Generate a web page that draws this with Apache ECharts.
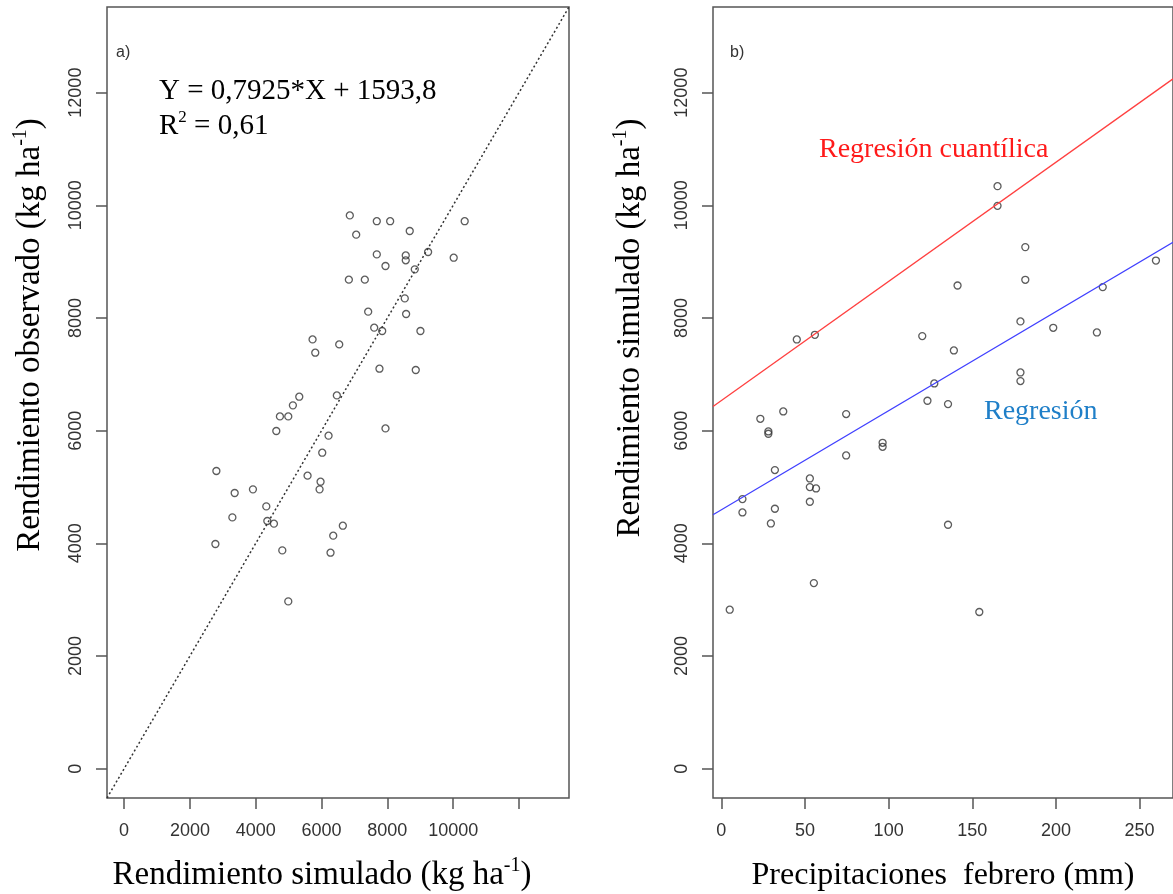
<!DOCTYPE html>
<html><head><meta charset="utf-8">
<script src="https://cdn.jsdelivr.net/npm/echarts@6/dist/echarts.min.js"></script>
<style>html,body{margin:0;padding:0;background:#fff}#c{width:1173px;height:894px}</style>
</head><body><div id="c"></div>
<script>
// Panel a) simulated vs observed yield (kg/ha)
const simA = [6859,7679,8085,10350,7053,8680,7679,8559,8559,9238,10016,7943,8833,6830,7315,8529,7417,8570,7600,7843,9005,5727,5809,6537,7760,8863,5323,6465,5129,4735,4989,4625,7943,6213,6021,2804,5575,5970,5940,3360,3915,4321,3290,4352,4553,6647,6355,2774,4807,6273,4989];
const obsA = [9821,9718,9718,9718,9479,9544,9129,9111,9023,9171,9070,8923,8863,8680,8680,8348,8112,8071,7828,7769,7769,7620,7384,7531,7100,7077,6603,6626,6449,6253,6253,5994,6040,5911,5609,5284,5201,5094,4958,4894,4958,4656,4461,4397,4349,4313,4136,3988,3875,3834,2970];
// Panel b) February rainfall (mm) vs simulated yield (kg/ha)
const precipB = [165.1,165.1,181.7,181.7,141.2,228.0,259.8,45.1,55.9,120.1,139.0,178.8,198.4,224.5,178.8,178.8,127.3,123.2,135.5,23.3,37.0,28.1,28.1,74.6,74.6,96.4,96.4,32.0,52.9,52.9,56.6,52.9,12.6,12.6,32.0,29.6,135.5,55.3,5.0,154.2];
const simB = [10340,9991,9258,8678,8577,8548,9020,7619,7702,7679,7424,7939,7826,7743,7033,6880,6838,6531,6472,6211,6341,5986,5945,6294,5560,5785,5714,5300,5152,4999,4974,4738,4786,4548,4614,4353,4330,3295,2822,2781];
// Regression lines of panel b) (intercept, slope)
const regLinear = [4596, 17.58];
const regQuantile = [6536, 21.14];
// Axis ticks
const yTicks = [0,2000,4000,6000,8000,10000,12000];
const xTicksA = [0,2000,4000,6000,8000,10000,12000];
const xLabelsA = [0,2000,4000,6000,8000,10000];
const xTicksB = [0,50,100,150,200,250];
const yRange = [-520, 13520];
const xRangeA = [-520, 13520];
const xRangeB = [-5, 270];

const SANS = 'Liberation Sans, Arial, sans-serif';
const SERIF = 'Liberation Serif, Times New Roman, serif';
const BOX = '#555';
const plain = v => String(v);

function axisX(grid, range, ticks, labels) {
  return {type:'value', gridIndex:grid, min:range[0], max:range[1],
    axisLine:{show:false, onZero:false}, splitLine:{show:false},
    axisTick:{show:true, customValues:ticks, length:11, lineStyle:{color:BOX, width:1.5}},
    axisLabel:{customValues:labels, formatter:plain, margin:24, fontSize:18, color:'#333', fontFamily:SANS}};
}
function axisY(grid) {
  return {type:'value', gridIndex:grid, min:yRange[0], max:yRange[1],
    axisLine:{show:false, onZero:false}, splitLine:{show:false},
    axisTick:{show:true, customValues:yTicks, length:11, lineStyle:{color:BOX, width:1.5}},
    axisLabel:{customValues:yTicks, formatter:plain, rotate:90, margin:22, fontSize:18, color:'#333', fontFamily:SANS}};
}
const pointStyle = {color:'transparent', borderColor:'#333', borderWidth:1.3};
const lineB = (c, r) => [[r[0], c[0] + c[1]*r[0]], [r[1], c[0] + c[1]*r[1]]];

function titleRich(size) {
  return {
    m:{fontFamily:SERIF, fontSize:size, color:'#000', lineHeight:size+6},
    s:{fontFamily:SERIF, fontSize:Math.round(size*0.6), color:'#000', lineHeight:Math.round(size*0.6), verticalAlign:'top'}
  };
}
function tText(str, x, y, rot, size) {
  return {type:'text', x:x, y:y, rotation:rot||0, silent:true,
    style:{text:str, rich:titleRich(size||33), textAlign:'center', textVerticalAlign:'middle'}};
}

const chart = echarts.init(document.getElementById('c'), null, {renderer:'canvas'});
chart.setOption({
  animation:false,
  backgroundColor:'#fff',
  grid:[
    {left:107, top:7, width:462, height:791, show:true, borderColor:BOX, borderWidth:1.5, backgroundColor:'transparent'},
    {left:713, top:7, width:462, height:791, show:true, borderColor:BOX, borderWidth:1.5, backgroundColor:'transparent'}
  ],
  xAxis:[axisX(0, xRangeA, xTicksA, xLabelsA), axisX(1, xRangeB, xTicksB, xTicksB)],
  yAxis:[axisY(0), axisY(1)],
  series:[
    {type:'line', xAxisIndex:0, yAxisIndex:0, data:[[xRangeA[0], yRange[0]],[xRangeA[1], yRange[1]]],
      symbol:'none', lineStyle:{color:'#333', width:1.5, type:[2,2.5]}},
    {type:'scatter', xAxisIndex:0, yAxisIndex:0, data:simA.map((v,i)=>[v, obsA[i]]),
      symbol:'circle', symbolSize:7, itemStyle:pointStyle},
    {type:'line', xAxisIndex:1, yAxisIndex:1, data:lineB(regQuantile, xRangeB),
      symbol:'none', lineStyle:{color:'#ff4040', width:1.3}},
    {type:'line', xAxisIndex:1, yAxisIndex:1, data:lineB(regLinear, xRangeB),
      symbol:'none', lineStyle:{color:'#4040ff', width:1.3}},
    {type:'scatter', xAxisIndex:1, yAxisIndex:1, data:precipB.map((v,i)=>[v, simB[i]]),
      symbol:'circle', symbolSize:7, itemStyle:pointStyle}
  ],
  graphic:[
    {type:'text', x:116, y:53, silent:true, style:{text:'a)', font:'16px '+SANS, fill:'#333', textVerticalAlign:'middle'}},
    {type:'text', x:730, y:53, silent:true, style:{text:'b)', font:'16px '+SANS, fill:'#333', textVerticalAlign:'middle'}},
    {type:'text', x:159, y:91, silent:true, style:{text:'Y = 0,7925*X + 1593,8', font:'29px '+SERIF, fill:'#000', textVerticalAlign:'middle'}},
    {type:'text', x:159, y:126, silent:true, style:{text:'{m|R}{s|2}{m| = 0,61}', textVerticalAlign:'middle',
      rich:{m:{fontFamily:SERIF, fontSize:29, color:'#000', lineHeight:34}, s:{fontFamily:SERIF, fontSize:17, color:'#000', lineHeight:17, verticalAlign:'top'}}}},
    {type:'text', x:819, y:150, silent:true, style:{text:'Regresión cuantílica', font:'28px '+SERIF, fill:'#ff1a1a', textVerticalAlign:'middle'}},
    {type:'text', x:984, y:412, silent:true, style:{text:'Regresión', font:'28px '+SERIF, fill:'#1f7fc8', textVerticalAlign:'middle'}},
    tText('{m|Rendimiento simulado (kg ha}{s|-1}{m|)}', 322, 875, 0, 33),
    tText('{m|Precipitaciones  febrero (mm)}', 943, 876, 0, 32),
    tText('{m|Rendimiento observado (kg ha}{s|-1}{m|)}', 30, 335, Math.PI/2, 33),
    tText('{m|Rendimiento simulado (kg ha}{s|-1}{m|)}', 630, 328, Math.PI/2, 33)
  ]
});
</script></body></html>
